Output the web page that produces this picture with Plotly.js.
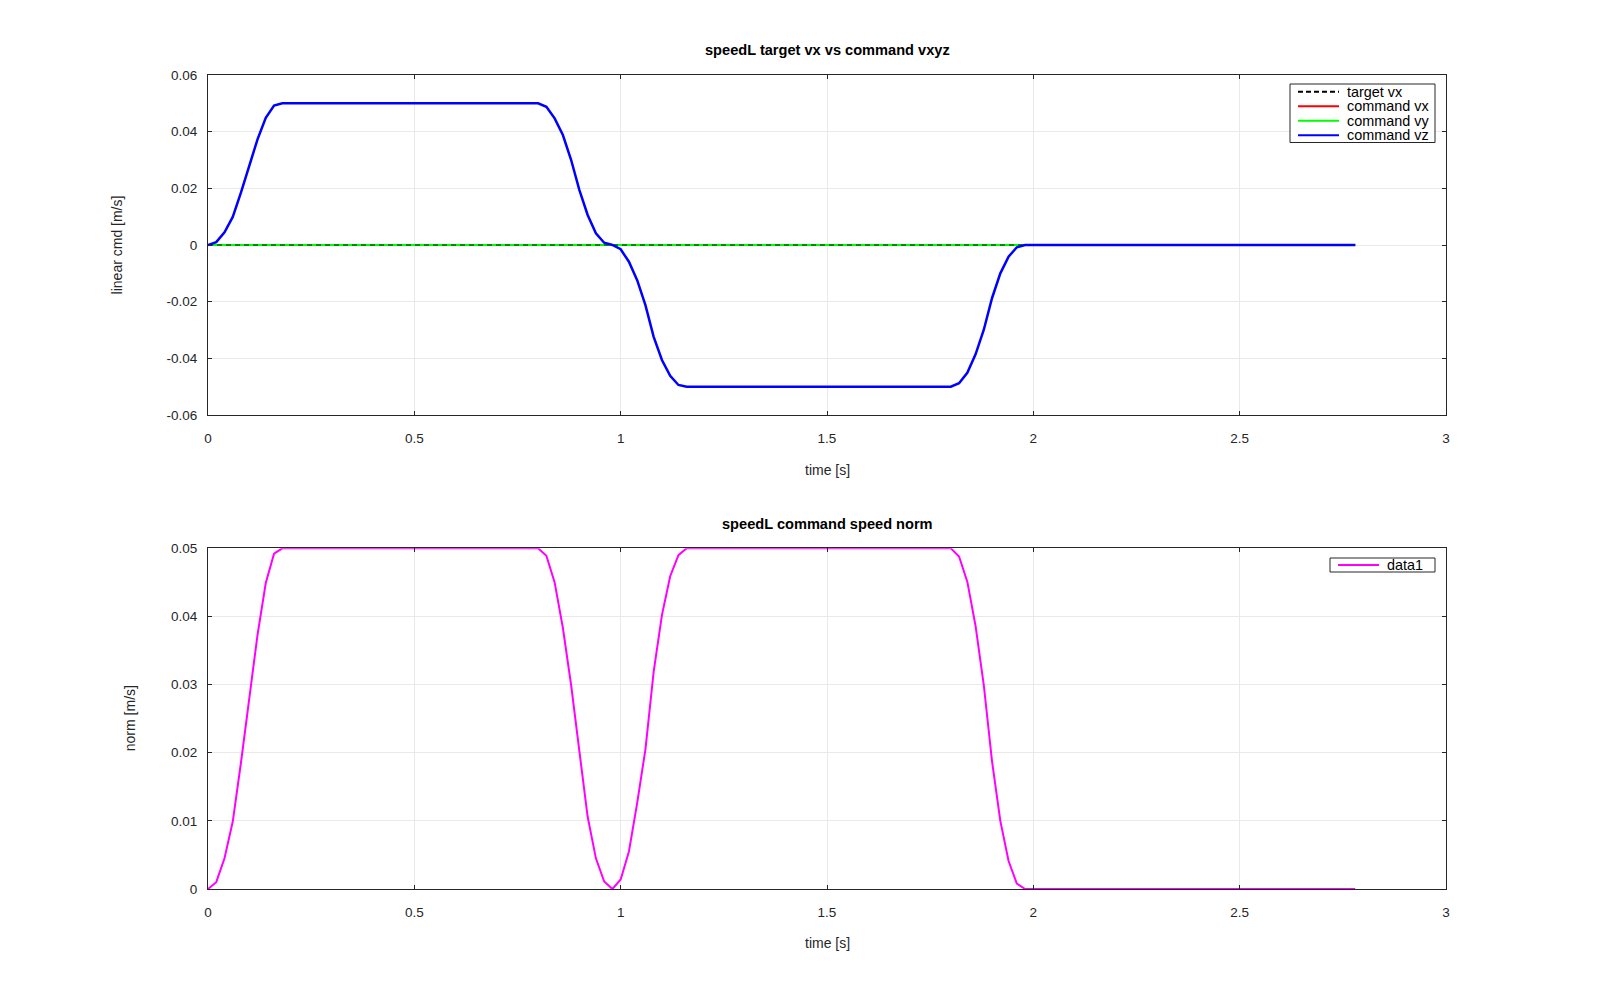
<!DOCTYPE html>
<html>
<head>
<meta charset="utf-8">
<script src="https://cdn.plot.ly/plotly-3.0.1.min.js"></script>
<style>
  body { margin: 0; background: #fff; }
  #plot { width: 1600px; height: 1000px; }
</style>
</head>
<body>
<div id="plot"></div>
<script>
// breakpoints of the command profile (straight segments between them)
let tCmd = [0, 0.02, 0.04, 0.06, 0.08, 0.10, 0.12, 0.14, 0.16, 0.18,
            0.80, 0.82, 0.84, 0.86, 0.88, 0.90, 0.92, 0.94, 0.96, 0.98,
            1.00, 1.02, 1.04, 1.06, 1.08, 1.10, 1.12, 1.14, 1.16,
            1.80, 1.82, 1.84, 1.86, 1.88, 1.90, 1.92, 1.94, 1.96, 1.98,
            2.78];
let vzCmd = [0, 0.0010, 0.0045, 0.0099, 0.0186, 0.0284, 0.0373, 0.0449, 0.0492, 0.0500,
             0.0500, 0.0488, 0.0447, 0.0388, 0.0300, 0.0194, 0.0106, 0.0041, 0.0008, 0,
             -0.0015, -0.0059, -0.0124, -0.0212, -0.0324, -0.0406, -0.0462, -0.0494, -0.0500,
             -0.0500, -0.0488, -0.0451, -0.0386, -0.0299, -0.0187, -0.0100, -0.0041, -0.0008, 0,
             0];
let normCmd = [0, 0.0010, 0.0045, 0.0099, 0.0186, 0.0284, 0.0373, 0.0449, 0.0492, 0.0500,
               0.0500, 0.0489, 0.0450, 0.0383, 0.0299, 0.0202, 0.0106, 0.0045, 0.0011, 0,
               0.0014, 0.0055, 0.0126, 0.0205, 0.0319, 0.0402, 0.0459, 0.0490, 0.0500,
               0.0500, 0.0488, 0.0451, 0.0386, 0.0299, 0.0187, 0.0100, 0.0041, 0.0008, 0,
               0];
let tFlat = [0, 2.78];
let vxTarget = [0, 0];
let vxCmd = [0, 0];
let vyCmd = [0, 0];

let xTicks = [0, 0.5, 1, 1.5, 2, 2.5, 3];
let xTickText = ['0', '0.5', '1', '1.5', '2', '2.5', '3'];
let yTicksTop = [-0.06, -0.04, -0.02, 0, 0.02, 0.04, 0.06];
let yTickTextTop = ['-0.06', '-0.04', '-0.02', '0', '0.02', '0.04', '0.06'];
let yTicksBot = [0, 0.01, 0.02, 0.03, 0.04, 0.05];
let yTickTextBot = ['0', '0.01', '0.02', '0.03', '0.04', '0.05'];

let font = 'Liberation Sans, Arial, sans-serif';
let axisColor = '#262626';
let W = 1600, H = 1000;

let traceVx = {x: tFlat, y: vxCmd, type: 'scatter', mode: 'lines', name: 'command vx',
  line: {color: 'rgb(255,0,0)', width: 2}};
let traceVy = {x: tFlat, y: vyCmd, type: 'scatter', mode: 'lines', name: 'command vy',
  line: {color: 'rgb(0,255,0)', width: 2}};
let traceTarget = {x: tFlat, y: vxTarget, type: 'scatter', mode: 'lines', name: 'target vx',
  line: {color: 'rgb(0,0,0)', width: 1.5, dash: '5px,4px'}, opacity: 0.6};
let traceVz = {x: tCmd, y: vzCmd, type: 'scatter', mode: 'lines', name: 'command vz',
  line: {color: 'rgb(0,0,255)', width: 2.5}};
let traceNorm = {x: tCmd, y: normCmd, type: 'scatter', mode: 'lines', name: 'data1',
  xaxis: 'x2', yaxis: 'y2', line: {color: 'rgb(255,0,255)', width: 2}};

function axis(domain, range, ticks, text, anchor, standoff) {
  return {
    domain: domain, range: range, anchor: anchor,
    tickmode: 'array', tickvals: ticks, ticktext: text,
    ticks: 'inside', ticklen: 4, tickcolor: axisColor,
    showline: true, linecolor: axisColor, linewidth: 1, mirror: 'ticks',
    showgrid: true, gridcolor: '#e9e9e9', gridwidth: 1,
    zeroline: false, fixedrange: true, ticklabelstandoff: standoff,
    tickfont: {family: font, size: 13.5, color: axisColor}
  };
}

let xDom = [208 / W, 1446 / W];

// legend boxes drawn in pixel positions (octave-style compact legend)
function px(x) { return x / W; }
function py(y) { return 1 - y / H; }

function legendBox(x0, y0, x1, y1, entries, lineX0, lineX1, textX) {
  let shapes = [{type: 'rect', xref: 'paper', yref: 'paper', x0: px(x0), x1: px(x1), y0: py(y0), y1: py(y1),
    line: {color: axisColor, width: 1}, fillcolor: '#ffffff', layer: 'above'}];
  let notes = [];
  entries.forEach(e => {
    shapes.push({type: 'line', xref: 'paper', yref: 'paper', x0: px(lineX0), x1: px(lineX1), y0: py(e.y), y1: py(e.y),
      line: {color: e.color, width: 2, dash: e.dash || 'solid'}, layer: 'above'});
    notes.push({text: e.name, x: px(textX), y: py(e.y), xref: 'paper', yref: 'paper', showarrow: false,
      xanchor: 'left', yanchor: 'middle', font: {family: font, size: 14.4, color: '#000'}});
  });
  return {shapes: shapes, notes: notes};
}

let legTop = legendBox(1290, 84, 1435, 142.5, [
  {name: traceTarget.name, color: '#000', dash: '5px,3px', y: 91.8},
  {name: traceVx.name, color: traceVx.line.color, y: 106.3},
  {name: traceVy.name, color: traceVy.line.color, y: 120.8},
  {name: traceVz.name, color: traceVz.line.color, y: 135.3}
], 1298, 1339, 1345);
let legBot = legendBox(1330, 558, 1435, 572, [
  {name: traceNorm.name, color: traceNorm.line.color, y: 565}
], 1338, 1379, 1385);

function label(text, x, y, opts) {
  return Object.assign({text: text, x: px(x), y: py(y), xref: 'paper', yref: 'paper', showarrow: false,
    xanchor: 'center', yanchor: 'middle', font: {family: font, size: 14, color: axisColor}}, opts || {});
}

let boldFont = {family: font, size: 14.6, color: '#000'};

let layout = {
  width: W, height: H,
  margin: {l: 0, r: 0, t: 0, b: 0},
  paper_bgcolor: '#ffffff', plot_bgcolor: '#ffffff',
  font: {family: font, size: 13, color: axisColor},
  showlegend: false,
  xaxis: axis(xDom, [0, 3], xTicks, xTickText, 'y', 11),
  yaxis: axis([0.585, 0.925], [-0.06, 0.06], yTicksTop, yTickTextTop, 'x', 7),
  xaxis2: axis(xDom, [0, 3], xTicks, xTickText, 'y2', 11),
  yaxis2: axis([0.111, 0.4517], [0, 0.05], yTicksBot, yTickTextBot, 'x2', 7),
  shapes: legTop.shapes.concat(legBot.shapes),
  annotations: [
    label('<b>speedL target vx vs command vxyz</b>', 827, 50, {font: boldFont}),
    label('<b>speedL command speed norm</b>', 827, 523.6, {font: boldFont}),
    label('time [s]', 827, 469.5),
    label('time [s]', 827, 943),
    label('linear cmd [m/s]', 117.4, 245, {textangle: -90}),
    label('norm [m/s]', 129.6, 718.6, {textangle: -90})
  ].concat(legTop.notes, legBot.notes)
};

let plotDiv = document.getElementById('plot');
Plotly.newPlot(plotDiv, [traceVx, traceVy, traceTarget, traceVz, traceNorm], layout, {displayModeBar: false, staticPlot: true});
</script>
</body>
</html>
